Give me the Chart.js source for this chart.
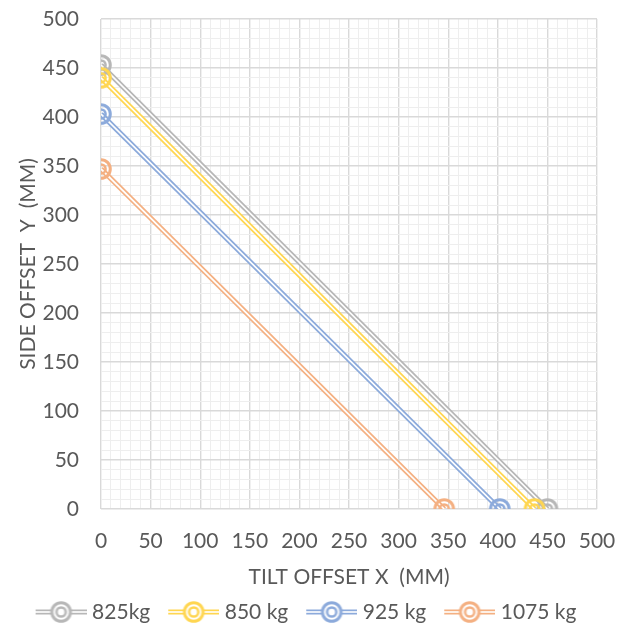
<!DOCTYPE html>
<html><head><meta charset="utf-8">
<script src="https://cdn.jsdelivr.net/npm/chart.js@4/dist/chart.umd.min.js"></script>
<style>html,body{margin:0;padding:0;background:#fff;}</style>
</head><body>
<canvas id="c" width="630" height="625" style="width:630px;height:625px;display:block"></canvas>
<script>
// ---- data ----
const seriesNames = ['825kg', '850 kg', '925 kg', '1075 kg'];
const tiltX_825 = [0, 450];
const sideY_825 = [453, 0];
const tiltX_850 = [0, 437];
const sideY_850 = [440, 0];
const tiltX_925 = [0, 402];
const sideY_925 = [403, 0];
const tiltX_1075 = [0, 346];
const sideY_1075 = [347, 0];
const xTitle = 'TILT OFFSET X  (MM)';
const yTitle = 'SIDE OFFSET  Y  (MM)';
const axisMin = 0, axisMax = 500, majorStep = 50, minorStep = 10;

const seriesX = [tiltX_825, tiltX_850, tiltX_925, tiltX_1075];
const seriesY = [sideY_825, sideY_850, sideY_925, sideY_1075];
const colors = ['#b7b7b7', '#ffd651', '#8caadb', '#f4b082'];

const FONT = 'Lato';
const FS = 21;
const TEXT = '#595959';
const ICON_GAP = 15;   // space before each legend icon
const ICON_W = 51;     // drawn legend icon width

function makeMarker(color) {
  const c = document.createElement('canvas');
  c.width = 26; c.height = 26;
  const g = c.getContext('2d');
  g.strokeStyle = color;
  g.lineWidth = 3;
  g.beginPath(); g.arc(13, 13, 9.3, 0, Math.PI * 2); g.stroke();
  g.lineWidth = 2.5;
  g.beginPath(); g.arc(13, 13, 4.6, 0, Math.PI * 2); g.stroke();
  return c;
}
function makeLegendIcon(color) {
  const off = ICON_GAP + 5;
  const c = document.createElement('canvas');
  c.width = off + ICON_W; c.height = 26;
  const g = c.getContext('2d');
  g.fillStyle = color;
  g.fillRect(off, 10.5, ICON_W, 5);
  g.fillStyle = '#fff';
  g.fillRect(off, 12.2, ICON_W, 1.6);
  const cx = off + ICON_W / 2;
  g.beginPath(); g.arc(cx, 13, 9.5, 0, Math.PI * 2); g.fill();
  g.drawImage(makeMarker(color), cx - 13, 0);
  return c;
}

const datasets = [];
seriesNames.forEach((name, i) => {
  const pts = seriesX[i].map((x, k) => ({ x: x, y: seriesY[i][k] }));
  const n = seriesNames.length;
  datasets.push({
    label: name, data: pts, showLine: true,
    borderColor: colors[i], borderWidth: 5.2,
    pointRadius: 0, order: (n - i) * 2
  });
  datasets.push({
    label: name + ' core', data: pts, showLine: true,
    borderColor: '#ffffff', borderWidth: 1.7,
    pointStyle: makeMarker(colors[i]), pointRadius: 11,
    order: (n - i) * 2 - 1
  });
});

const gridColor = (ctx) => (ctx.tick && ctx.tick.value % majorStep === 0) ? '#d9d9d9' : '#eeeeee';
const gridWidth = (ctx) => (ctx.tick && ctx.tick.value % majorStep === 0) ? 1.4 : 1;
const tickCb = (v) => (v % majorStep === 0 ? v : '');

const legendShift = {
  id: 'legendShift',
  afterLayout(chart) {
    const lg = chart.legend;
    lg.left -= 3; lg.right -= 3;
  }
};

new Chart(document.getElementById('c'), {
  type: 'scatter',
  data: { datasets },
  plugins: [legendShift],
  options: {
    responsive: false,
    devicePixelRatio: 1,
    animation: false,
    events: [],
    layout: { padding: { left: 6, right: 33, top: 19, bottom: -7.5 } },
    plugins: {
      tooltip: { enabled: false },
      legend: {
        position: 'bottom',
        labels: {
          usePointStyle: true,
          pointStyleWidth: ICON_GAP + ICON_W - 5,
          boxHeight: 20,
          padding: 3,
          color: TEXT,
          font: { family: FONT, size: FS },
          generateLabels: () => seriesNames.map((name, i) => ({
            text: name,
            pointStyle: makeLegendIcon(colors[i]),
            fillStyle: colors[i], strokeStyle: colors[i], lineWidth: 0,
            fontColor: TEXT, hidden: false, datasetIndex: i * 2
          }))
        }
      }
    },
    scales: {
      x: {
        type: 'linear', min: axisMin, max: axisMax,
        afterFit: (s) => { s.height = 89.5; s.paddingLeft = 0; s.paddingRight = 0; },
        border: { display: false },
        grid: { color: gridColor, lineWidth: gridWidth, drawTicks: false },
        ticks: { stepSize: minorStep, autoSkip: false, maxRotation: 0, padding: 20,
                 color: TEXT, font: { family: FONT, size: FS }, callback: tickCb },
        title: { display: true, text: xTitle, color: TEXT, font: { family: FONT, size: FS },
                 padding: { top: 0, bottom: 9 } }
      },
      y: {
        type: 'linear', min: axisMin, max: axisMax,
        afterFit: (s) => { s.width = 95; s.paddingTop = 0; s.paddingBottom = 0; },
        border: { display: false },
        grid: { color: gridColor, lineWidth: gridWidth, drawTicks: false },
        ticks: { stepSize: minorStep, autoSkip: false, padding: 22,
                 color: TEXT, font: { family: FONT, size: FS }, callback: tickCb },
        title: { display: true, text: yTitle, color: TEXT, font: { family: FONT, size: FS },
                 padding: { top: 10, bottom: 0 } }
      }
    }
  }
});
</script>
</body></html>
